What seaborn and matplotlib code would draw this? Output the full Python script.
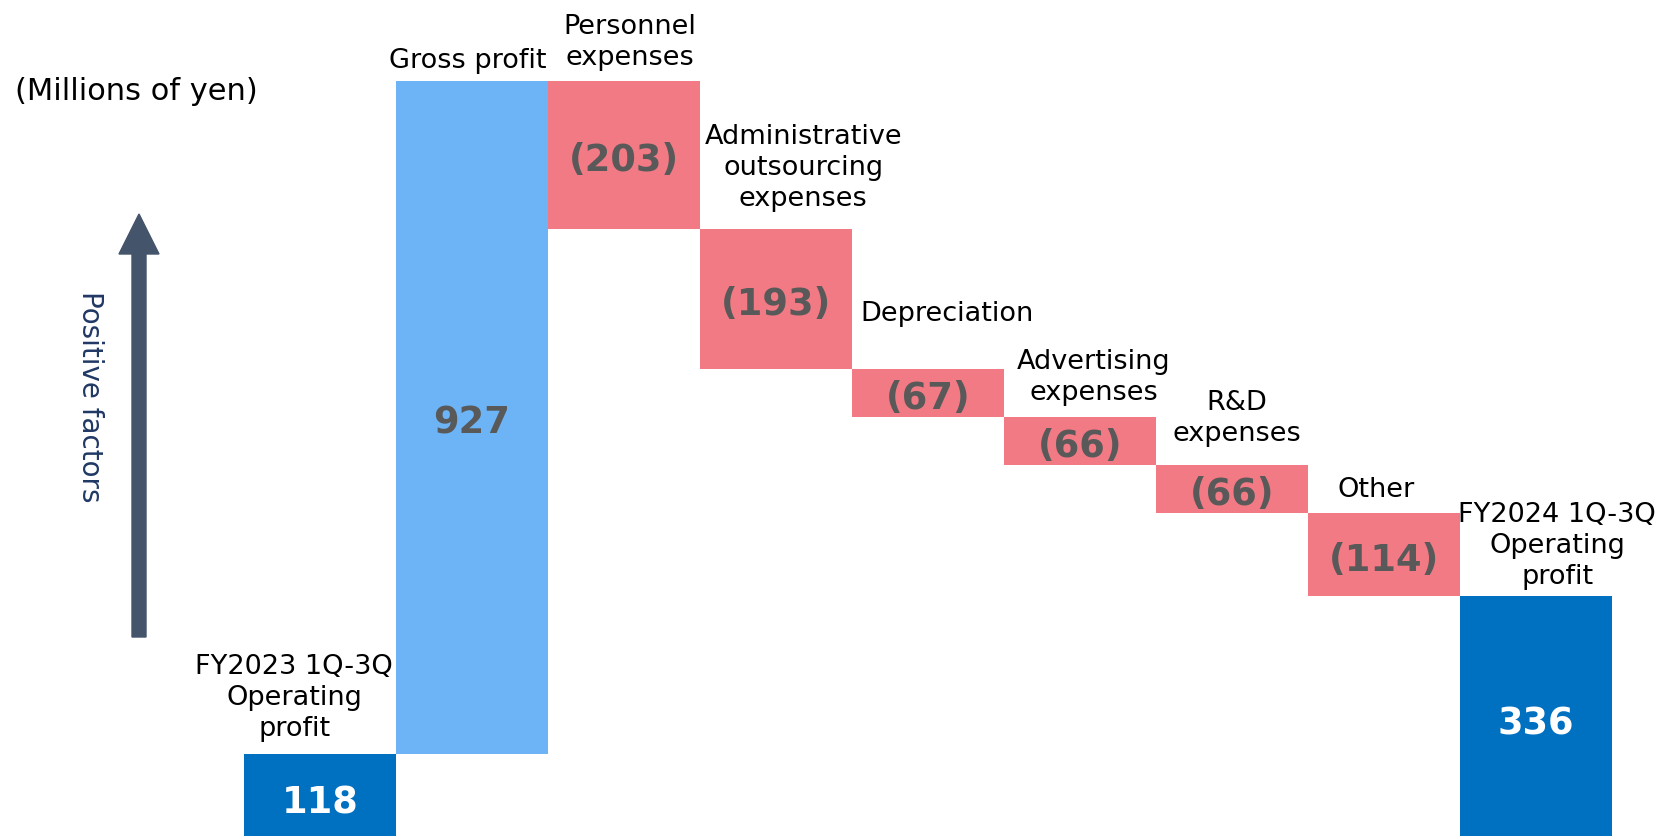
import numpy as np
import pandas as pd
import matplotlib
matplotlib.use("Agg")
import matplotlib.pyplot as plt
from matplotlib.patches import FancyArrow
from matplotlib.transforms import IdentityTransform
import seaborn as sns

# data (millions of yen)
categories = [
    "FY2023 1Q-3Q\nOperating\nprofit",
    "Gross profit",
    "Personnel\nexpenses",
    "Administrative\noutsourcing\nexpenses",
    "Depreciation",
    "Advertising\nexpenses",
    "R&D\nexpenses",
    "Other",
    "FY2024 1Q-3Q\nOperating\nprofit",
]
amounts = [118, 927, -203, -193, -67, -66, -66, -114, 336]
kinds = ["total", "increase", "decrease", "decrease", "decrease",
         "decrease", "decrease", "decrease", "total"]

# layout tweaks for the category labels (x shift in bar widths, gap above bar in px)
label_dx = [-0.17, -0.03, 0.04, 0.18, 0.125, 0.09, 0.03, -0.05, 0.14]
label_gap = [12, 7, 10, 17, 42, 11, 18, 10, 6]

colors = {"total": "#0070C0", "increase": "#6CB4F6", "decrease": "#F27A85"}
value_colors = {"total": "white", "increase": "#595959", "decrease": "#595959"}

# waterfall bottoms / heights
bottoms, heights = [], []
running = 0
for amt, kind in zip(amounts, kinds):
    if kind == "total":
        bottoms.append(0)
        heights.append(amt)
        running = amt
    elif amt >= 0:
        bottoms.append(running)
        heights.append(amt)
        running += amt
    else:
        running += amt
        bottoms.append(running)
        heights.append(-amt)

df = pd.DataFrame({"category": categories, "height": heights, "bottom": bottoms, "kind": kinds})

sns.set_theme(style="white")
plt.rcParams["font.family"] = ["DejaVu Sans"]

fig = plt.figure(figsize=(16.72, 8.36), dpi=100)
ax = fig.add_axes([0, 0, 1, 1])

sns.barplot(data=df, x="category", y="height", bottom=df["bottom"].values,
            width=1.0, linewidth=0, color=colors["decrease"], saturation=1,
            ax=ax, order=categories)
for patch, kind in zip(ax.patches, kinds):
    patch.set_facecolor(colors[kind])
    patch.set_edgecolor("none")

ax.set_xlim(-2.105, 8.895)
ax.set_ylim(5.5, 1157)
ax.axis("off")

for i, row in df.iterrows():
    top = row["bottom"] + row["height"]
    amt = amounts[i]
    txt = f"{amt}" if amt >= 0 else f"({-amt})"
    # value inside the bar
    ax.annotate(txt, xy=(i, row["bottom"] + row["height"] / 2),
                xytext=(0, -4), textcoords="offset points",
                ha="center", va="center", fontsize=26.5, fontweight="bold",
                color=value_colors[row["kind"]])
    # category label above the bar
    ax.annotate(row["category"], xy=(i + label_dx[i], top),
                xytext=(0, label_gap[i] * 0.72), textcoords="offset points",
                ha="center", va="bottom", multialignment="center",
                fontsize=19.5, color="black", linespacing=1.25)

fig.text(136 / 1672, 1 - 91 / 836, "(Millions of yen)", ha="center", va="center",
         fontsize=22, color="black")

arrow = FancyArrow(139, 199, 0, 423, width=14, head_width=40, head_length=40,
                   length_includes_head=True, color="#44546A",
                   transform=IdentityTransform())
fig.add_artist(arrow)
fig.text(90 / 1672, 1 - 397 / 836, "Positive factors", rotation=-90,
         ha="center", va="center", fontsize=20, color="#203864")

fig.savefig("out.png", dpi=100)
